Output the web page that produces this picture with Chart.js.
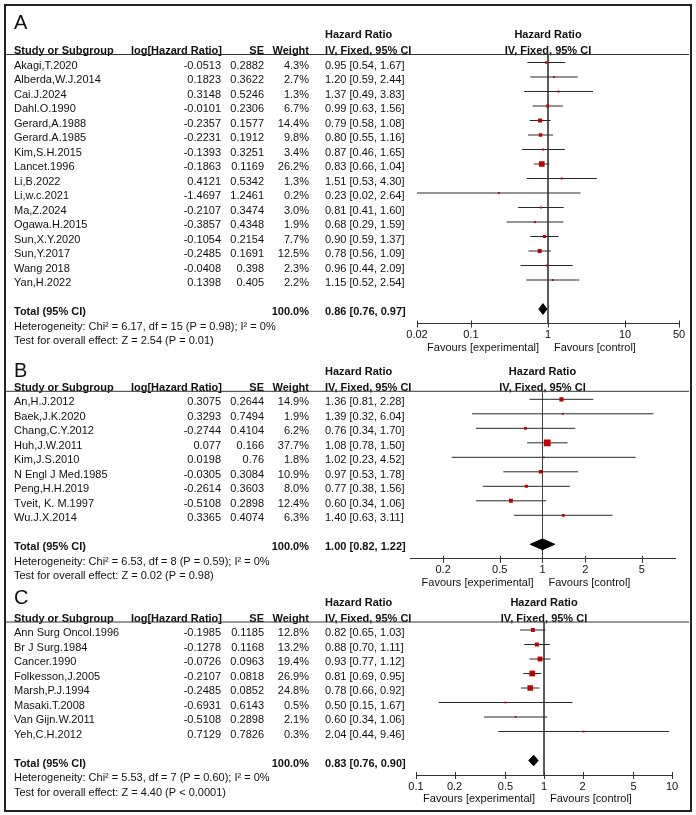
<!DOCTYPE html>
<html>
<head>
<meta charset="utf-8">
<script src="https://cdn.jsdelivr.net/npm/chart.js@4.4.1/dist/chart.umd.min.js"></script>
<style>
  body { margin: 0; background: #fff; }
  #wrap { position: relative; width: 696px; height: 815px; }
  #frame { position: absolute; left: 4px; top: 4px; width: 684px; height: 804px; border: 2px solid #222; }
  canvas { position: absolute; left: 0; top: 0; }
</style>
</head>
<body>
<div id="wrap">
  <div id="frame"></div>
  <canvas id="chartA" width="696" height="815"></canvas>
  <canvas id="chartB" width="696" height="815"></canvas>
  <canvas id="chartC" width="696" height="815"></canvas>
</div>
<script>
// ---- panel A ----
const studiesA = ['Akagi,T.2020', 'Alberda,W.J.2014', 'Cai.J.2024', 'Dahl.O.1990', 'Gerard,A.1988', 'Gerard.A.1985',
  'Kim,S.H.2015', 'Lancet.1996', 'Li,B.2022', 'Li,w.c.2021', 'Ma,Z.2024', 'Ogawa.H.2015', 'Sun,X.Y.2020',
  'Sun,Y.2017', 'Wang 2018', 'Yan,H.2022'];
const logHrA = ['-0.0513', '0.1823', '0.3148', '-0.0101', '-0.2357', '-0.2231', '-0.1393', '-0.1863', '0.4121',
  '-1.4697', '-0.2107', '-0.3857', '-0.1054', '-0.2485', '-0.0408', '0.1398'];
const seA = ['0.2882', '0.3622', '0.5246', '0.2306', '0.1577', '0.1912', '0.3251', '0.1169', '0.5342', '1.2461',
  '0.3474', '0.4348', '0.2154', '0.1691', '0.398', '0.405'];
const weightA = [4.3, 2.7, 1.3, 6.7, 14.4, 9.8, 3.4, 26.2, 1.3, 0.2, 3.0, 1.9, 7.7, 12.5, 2.3, 2.2];
const hrA = [0.95, 1.20, 1.37, 0.99, 0.79, 0.80, 0.87, 0.83, 1.51, 0.23, 0.81, 0.68, 0.90, 0.78, 0.96, 1.15];
const lowerA = [0.54, 0.59, 0.49, 0.63, 0.58, 0.55, 0.46, 0.66, 0.53, 0.02, 0.41, 0.29, 0.59, 0.56, 0.44, 0.52];
const upperA = [1.67, 2.44, 3.83, 1.56, 1.08, 1.16, 1.65, 1.04, 4.30, 2.64, 1.60, 1.59, 1.37, 1.09, 2.09, 2.54];
const totalA = [0.86, 0.76, 0.97];
const hetA = 'Heterogeneity: Chi\u00b2 = 6.17, df = 15 (P = 0.98); I\u00b2 = 0%';
const effectA = 'Test for overall effect: Z = 2.54 (P = 0.01)';
const ticksA = [0.02, 0.1, 1, 10, 50];
const rangeA = [0.02, 50];

// ---- panel B ----
const studiesB = ['An,H.J.2012', 'Baek,J.K.2020', 'Chang,C.Y.2012', 'Huh,J.W.2011', 'Kim,J.S.2010',
  'N Engl J Med.1985', 'Peng,H.H.2019', 'Tveit, K. M.1997', 'Wu.J.X.2014'];
const logHrB = ['0.3075', '0.3293', '-0.2744', '0.077', '0.0198', '-0.0305', '-0.2614', '-0.5108', '0.3365'];
const seB = ['0.2644', '0.7494', '0.4104', '0.166', '0.76', '0.3084', '0.3603', '0.2898', '0.4074'];
const weightB = [14.9, 1.9, 6.2, 37.7, 1.8, 10.9, 8.0, 12.4, 6.3];
const hrB = [1.36, 1.39, 0.76, 1.08, 1.02, 0.97, 0.77, 0.60, 1.40];
const lowerB = [0.81, 0.32, 0.34, 0.78, 0.23, 0.53, 0.38, 0.34, 0.63];
const upperB = [2.28, 6.04, 1.70, 1.50, 4.52, 1.78, 1.56, 1.06, 3.11];
const totalB = [1.00, 0.82, 1.22];
const hetB = 'Heterogeneity: Chi\u00b2 = 6.53, df = 8 (P = 0.59); I\u00b2 = 0%';
const effectB = 'Test for overall effect: Z = 0.02 (P = 0.98)';
const ticksB = [0.2, 0.5, 1, 2, 5];
const rangeB = [0.117, 8.55];

// ---- panel C ----
const studiesC = ['Ann Surg Oncol.1996', 'Br J Surg.1984', 'Cancer.1990', 'Folkesson,J.2005', 'Marsh,P.J.1994',
  'Masaki.T.2008', 'Van Gijn.W.2011', 'Yeh,C.H.2012'];
const logHrC = ['-0.1985', '-0.1278', '-0.0726', '-0.2107', '-0.2485', '-0.6931', '-0.5108', '0.7129'];
const seC = ['0.1185', '0.1168', '0.0963', '0.0818', '0.0852', '0.6143', '0.2898', '0.7826'];
const weightC = [12.8, 13.2, 19.4, 26.9, 24.8, 0.5, 2.1, 0.3];
const hrC = [0.82, 0.88, 0.93, 0.81, 0.78, 0.50, 0.60, 2.04];
const lowerC = [0.65, 0.70, 0.77, 0.69, 0.66, 0.15, 0.34, 0.44];
const upperC = [1.03, 1.11, 1.12, 0.95, 0.92, 1.67, 1.06, 9.46];
const totalC = [0.83, 0.76, 0.90];
const hetC = 'Heterogeneity: Chi\u00b2 = 5.53, df = 7 (P = 0.60); I\u00b2 = 0%';
const effectC = 'Test for overall effect: Z = 4.40 (P < 0.0001)';
const ticksC = [0.1, 0.2, 0.5, 1, 2, 5, 10];
const rangeC = [0.1, 10];

const FONT = "'Liberation Sans', Arial, sans-serif";
const ROW = 14.5;          // px between study rows
const AXIS_H = 11 * 1.2 + 2 * 5; // tick label height + padding
const INK = '#111';

Chart.defaults.font.family = FONT;

const panels = [
  { id: 'chartA', letter: 'A', names: studiesA, logHr: logHrA, se: seA, weight: weightA, hr: hrA, lo: lowerA, hi: upperA,
    total: totalA, het: hetA, effect: effectA, ticks: ticksA, range: rangeA,
    left: 417, right: 679, row0: 62.5, letterRow: -2.93 },
  { id: 'chartB', letter: 'B', names: studiesB, logHr: logHrB, se: seB, weight: weightB, hr: hrB, lo: lowerB, hi: upperB,
    total: totalB, het: hetB, effect: effectB, ticks: ticksB, range: rangeB,
    left: 410, right: 675, row0: 399.3, letterRow: -2.1 },
  { id: 'chartC', letter: 'C', names: studiesC, logHr: logHrC, se: seC, weight: weightC, hr: hrC, lo: lowerC, hi: upperC,
    total: totalC, het: hetC, effect: effectC, ticks: ticksC, range: rangeC,
    left: 416, right: 672, row0: 630, letterRow: -2.4 }
];

const ci = (h, l, u) => h.toFixed(2) + ' [' + l.toFixed(2) + ', ' + u.toFixed(2) + ']';

// table text, header rule and crossing tick marks
function tablePlugin(p) {
  return {
    id: 'table' + p.letter,
    afterDraw(chart) {
      const { ctx, chartArea, scales: { x, y } } = chart;
      const n = p.names.length;
      const ry = r => y.getPixelForValue(r) + 3;
      const one = x.getPixelForValue(1);
      const txt = (s, px, py, align, bold, size) => {
        ctx.font = (bold ? 'bold ' : '') + (size || 11) + 'px ' + FONT;
        ctx.textAlign = align;
        ctx.fillText(s, px, py);
      };
      ctx.save();
      ctx.fillStyle = INK;
      ctx.textBaseline = 'middle';

      txt(p.letter, 14, ry(p.letterRow), 'left', false, 20);
      txt('Hazard Ratio', 325, ry(-2.1), 'left', true);
      txt('Hazard Ratio', one, ry(-2.1), 'center', true);
      txt('Study or Subgroup', 14, ry(-1), 'left', true);
      txt('log[Hazard Ratio]', 222, ry(-1), 'right', true);
      txt('SE', 264, ry(-1), 'right', true);
      txt('Weight', 309, ry(-1), 'right', true);
      txt('IV, Fixed, 95% CI', 325, ry(-1), 'left', true);
      txt('IV, Fixed, 95% CI', one, ry(-1), 'center', true);

      p.names.forEach((name, i) => {
        txt(name, 14, ry(i), 'left');
        txt(p.logHr[i], 221, ry(i), 'right');
        txt(p.se[i], 264, ry(i), 'right');
        txt(p.weight[i].toFixed(1) + '%', 309, ry(i), 'right');
        txt(ci(p.hr[i], p.lo[i], p.hi[i]), 325, ry(i), 'left');
      });
      txt('Total (95% CI)', 14, ry(n + 1), 'left', true);
      txt('100.0%', 309, ry(n + 1), 'right', true);
      txt(ci(p.total[0], p.total[1], p.total[2]), 325, ry(n + 1), 'left', true);
      txt(p.het, 14, ry(n + 2), 'left');
      txt(p.effect, 14, ry(n + 3), 'left');

      const fy = chartArea.bottom + 24;
      txt('Favours [experimental]', one - 9, fy, 'right');
      txt('Favours [control]', one + 6, fy, 'left');

      ctx.strokeStyle = '#333';
      ctx.lineWidth = 1;
      ctx.beginPath();
      ctx.moveTo(5, chartArea.top);
      ctx.lineTo(689, chartArea.top);
      x.ticks.forEach(t => {
        const px = Math.round(x.getPixelForValue(t.value)) + 0.5;
        ctx.moveTo(px, chartArea.bottom - 3);
        ctx.lineTo(px, chartArea.bottom + 4);
      });
      ctx.stroke();
      ctx.restore();
    }
  };
}

panels.forEach(p => {
  const n = p.names.length;
  const yMin = -8 / ROW;
  const yMax = n + 2;
  const axisPx = p.row0 + ROW * yMax;
  const totalRow = n + 1;

  const datasets = [];
  // study squares, side ~ sqrt(weight)
  datasets.push({
    data: p.hr.map((h, i) => ({ x: h, y: i })),
    pointStyle: 'rect',
    pointRadius: c => Math.max(1.8, 1.1 * Math.sqrt(p.weight[c.dataIndex])) / Math.SQRT2,
    pointBackgroundColor: '#c00000',
    pointBorderWidth: 0,
    order: 0
  });
  // pooled diamond
  const [th, tl, tu] = p.total;
  datasets.push({
    data: [{ x: tl, y: totalRow }, { x: th, y: totalRow - 0.37 }, { x: tu, y: totalRow },
           { x: th, y: totalRow + 0.37 }, { x: tl, y: totalRow }],
    showLine: true, fill: 'shape', backgroundColor: '#000', borderColor: '#000', borderWidth: 1,
    pointRadius: 0, order: 1
  });
  // confidence intervals
  p.lo.forEach((l, i) => {
    datasets.push({
      data: [{ x: l, y: i }, { x: p.hi[i], y: i }],
      showLine: true, borderColor: '#2a2a2a', borderWidth: 1, pointRadius: 0, order: 2
    });
  });
  // line of no effect
  datasets.push({
    data: [{ x: 1, y: yMin }, { x: 1, y: yMax }],
    showLine: true, borderColor: '#444', borderWidth: 1, pointRadius: 0, order: 3
  });

  new Chart(document.getElementById(p.id), {
    type: 'scatter',
    data: { datasets },
    options: {
      responsive: false,
      animation: false,
      events: [],
      layout: {
        padding: { left: p.left, right: 696 - p.right, top: p.row0 - 8, bottom: 815 - axisPx - AXIS_H }
      },
      plugins: { legend: { display: false }, tooltip: { enabled: false } },
      scales: {
        x: {
          type: 'logarithmic',
          min: p.range[0],
          max: p.range[1],
          bounds: 'data',
          afterBuildTicks: s => { s.ticks = p.ticks.map(v => ({ value: v })); },
          ticks: {
            autoSkip: false, maxRotation: 0, padding: 5, color: INK,
            font: { size: 11, family: FONT },
            callback: v => String(v)
          },
          grid: { display: false, drawTicks: false },
          border: { display: true, color: '#333', width: 1 }
        },
        y: { type: 'linear', display: false, reverse: true, min: yMin, max: yMax }
      }
    },
    plugins: [tablePlugin(p)]
  });
});
</script>
</body>
</html>
